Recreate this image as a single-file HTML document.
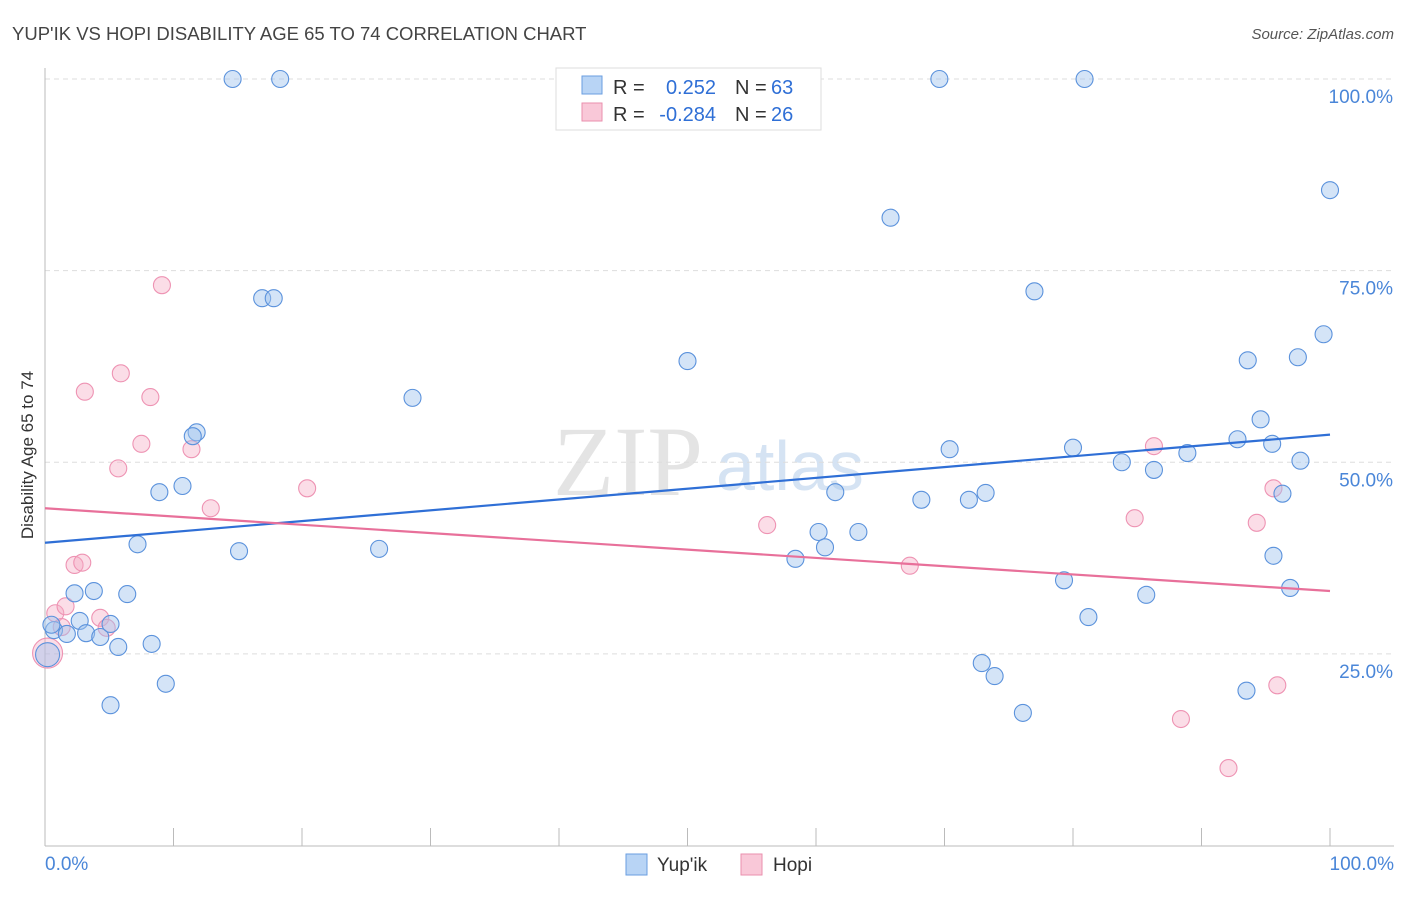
<!DOCTYPE html>
<html><head><meta charset="utf-8"><style>
body{margin:0;background:#fff;font-family:"Liberation Sans",sans-serif}
</style></head><body>
<svg id="c" width="1406" height="892" xmlns="http://www.w3.org/2000/svg">
<text x="12" y="40" font-size="18.5" fill="#444">YUP'IK VS HOPI DISABILITY AGE 65 TO 74 CORRELATION CHART</text>
<text x="1394" y="39" font-size="15" fill="#555" font-style="italic" text-anchor="end">Source: ZipAtlas.com</text>
<text x="553" y="495" font-size="100" fill="#e4e4e4" font-family="Liberation Serif,serif">ZIP</text>
<text x="716" y="490" font-size="70" fill="#d5e3f3">atlas</text>
<text transform="translate(33,455) rotate(-90)" font-size="17" fill="#333" text-anchor="middle">Disability Age 65 to 74</text>
<g id="axes"></g><g id="marks"></g>
<g>
<rect x="556" y="68" width="265" height="62" fill="#fff" stroke="#ddd"/>
<rect x="582" y="76" width="20" height="18" fill="#b8d4f5" stroke="#6a9ee0"/>
<rect x="582" y="103" width="20" height="18" fill="#f9c8d8" stroke="#ea8fae"/>
<g font-size="20" fill="#333">
<text x="613" y="94">R =</text><text x="716" y="94" text-anchor="end" fill="#2f6fd6">0.252</text><text x="735" y="94">N =</text><text x="771" y="94" fill="#2f6fd6">63</text>
<text x="613" y="121">R =</text><text x="716" y="121" text-anchor="end" fill="#2f6fd6">-0.284</text><text x="735" y="121">N =</text><text x="771" y="121" fill="#2f6fd6">26</text>
</g>
</g>
<g>
<rect x="626" y="854" width="21" height="21" fill="#b8d4f5" stroke="#6a9ee0"/>
<text x="657" y="871" font-size="19" fill="#333">Yup'ik</text>
<rect x="741" y="854" width="21" height="21" fill="#f9c8d8" stroke="#ea8fae"/>
<text x="773" y="871" font-size="19" fill="#333">Hopi</text>
</g>
</svg>
<script>
const yTicks=[25,50,75,100];
const yTickLabels=["25.0%","50.0%","75.0%","100.0%"];
const xTickLabels=["0.0%","100.0%"];
function basex(p){return Math.round((p-45)/12.85*10)/10;}
function basey(p){return Math.round((845.5-p)/7.665*10)/10;}
const blueX=[233,280,940,1084,1330,890,262,274,1035,688,1323,1248,1298,413,197,193,1261,1238,1272,950,1073,1188,1122,1154,1300,159,183,835,985,969,921,1282,138,239,379,818,859,825,795,1274,1064,1290,74,94,127,1146,54,67,80,86,100,111,118,152,1089,166,110,982,994,1023,1247,47,52].map(basex);
const blueY=[79,79,79,79,190,218,298,298,291,361,334,360,357,398,432,436,419,439,444,449,448,453,462,470,461,492,486,492,493,500,500,494,544,551,549,532,532,547,559,556,580,588,593,591,594,595,630,634,621,633,637,624,647,644,617,684,705,663,676,713,691,655,625].map(basey);
const pinkX=[162,85,121,151,142,118,192,211,307,74,82,55,66,62,100,107,47,767,910,1135,1154,1273,1257,1181,1228,1277].map(basex);
const pinkY=[285,392,373,397,444,468,449,508,488,565,563,613,606,627,618,628,653,525,566,518,446,488,523,719,768,685].map(basey);
const blueTrend=[basey(543),basey(435)];
const pinkTrend=[basey(508),basey(591)];
const sx=v=>45+v*12.85, sy=v=>845.5-v*7.665;
const NS="http://www.w3.org/2000/svg";
const ax=document.getElementById('axes'), mk=document.getElementById('marks');
function el(t,a,p){const e=document.createElementNS(NS,t);for(const k in a)e.setAttribute(k,a[k]);p.appendChild(e);return e;}
yTicks.forEach((t,i)=>{
 const g=el('line',{x1:45,x2:1394,y1:sy(t),y2:sy(t),stroke:'#ddd','stroke-dasharray':'5,4'},ax);
 
 
 const l=el('text',{x:1393,y:sy(t)+24,'font-size':19,fill:'#4a86d8','text-anchor':'end'},ax);l.textContent=yTickLabels[i];
 
 
});
const ya=el('line',{x1:45,x2:45,y1:68,y2:846,stroke:'#bbb'},ax);


const xa=el('line',{x1:45,x2:1394,y1:846,y2:846,stroke:'#bbb'},ax);


for(let i=0;i<=10;i++){const t=el('line',{x1:sx(i*10),x2:sx(i*10),y1:828,y2:846,stroke:'#bbb'},ax);
 
 }
[[0,'start',45],[100,'end',1394]].forEach((d,i)=>{const l=el('text',{x:d[2],y:870,'font-size':19,fill:'#4a86d8','text-anchor':d[1]},ax);l.textContent=xTickLabels[i];
 
 });
pinkX.forEach((x,i)=>{const c=el('circle',{cx:sx(x),cy:sy(pinkY[i]),r:i==16?15:8.5,fill:'rgba(246,170,196,0.4)',stroke:'#ee93b3','stroke-width':1.1},mk);
 
 });
blueX.forEach((x,i)=>{const c=el('circle',{cx:sx(x),cy:sy(blueY[i]),r:i==61?12:8.5,fill:'rgba(160,196,238,0.45)',stroke:'#5b92dc','stroke-width':1.1},mk);
 
 });
const bt=el('line',{x1:sx(0),x2:sx(100),y1:sy(blueTrend[0]),y2:sy(blueTrend[1]),stroke:'#2f6fd6','stroke-width':2.2},mk);


const pt=el('line',{x1:sx(0),x2:sx(100),y1:sy(pinkTrend[0]),y2:sy(pinkTrend[1]),stroke:'#e8709a','stroke-width':2.2},mk);


</script>
</body></html>
